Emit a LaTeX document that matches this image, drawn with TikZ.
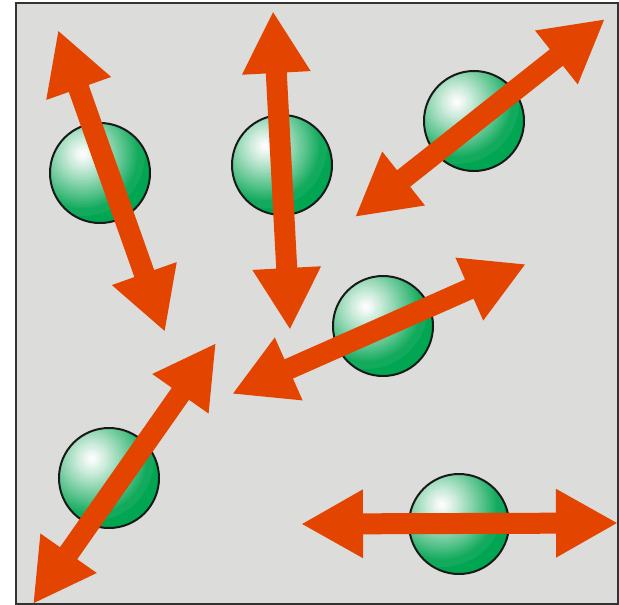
\documentclass[tikz,border=0pt]{standalone}
\usepackage{xcolor}
\usepackage{tikz}
\usetikzlibrary{arrows.meta}
\definecolor{boxgray}{HTML}{DCDCDA}
\definecolor{motionred}{HTML}{E34400}
\definecolor{ballgreen}{HTML}{00A651}

\begin{document}
\begin{tikzpicture}[
    x=1pt, y=-1pt,
    ball/.style={circle, draw=black!90, line width=2pt, fill=ballgreen, minimum size=100pt, inner sep=0pt,
        path picture={
            \foreach \r in {62,60.5,...,1} {
                \pgfmathtruncatemacro\p{min(100,100*(max(\r-2,0.01)/54)^1.1)}
                \fill [ballgreen!\p!white!92!boxgray] ([shift={(-17pt,19pt)}]path picture bounding box.center) circle (\r pt);
            }
        }},
    motion/.style={{Triangle[length=62pt, width=64pt]}-{Triangle[length=62pt, width=64pt]}, line width=21pt, motionred}
]
    \useasboundingbox (0,0) rectangle (619,605);
    % Box
    \draw [fill=boxgray, draw=black!80, line width=2pt] (16,3) rectangle (618,604);

    % Balls
    \node (ballA) [ball] at (100,173) {};
    \node (ballB) [ball] at (282,165) {};
    \node (ballC) [ball] at (474,121) {};
    \node (ballD) [ball] at (383,326) {};
    \node (ballE) [ball] at (109,478) {};
    \node (ballF) [ball] at (459,524) {};

    % Arrow ends
    \coordinate (a1) at (58,30);   \coordinate (b1) at (165,332);
    \coordinate (a2) at (273,11);  \coordinate (b2) at (290,330);
    \coordinate (a3) at (605,19);  \coordinate (b3) at (355,217);
    \coordinate (a4) at (526,264); \coordinate (b4) at (232,394);
    \coordinate (a5) at (216,343); \coordinate (b5) at (33,604);
    \coordinate (a6) at (301,524); \coordinate (b6) at (618,523);

    % Arrows
    \draw [motion] (a1) -- (b1);
    \draw [motion] (a2) -- (b2);
    \draw [motion] (a3) -- (b3);
    \draw [motion] (a4) -- (b4);
    \draw [motion] (a5) -- (b5);
    \draw [motion] (a6) -- (b6);
\end{tikzpicture}
\end{document}
